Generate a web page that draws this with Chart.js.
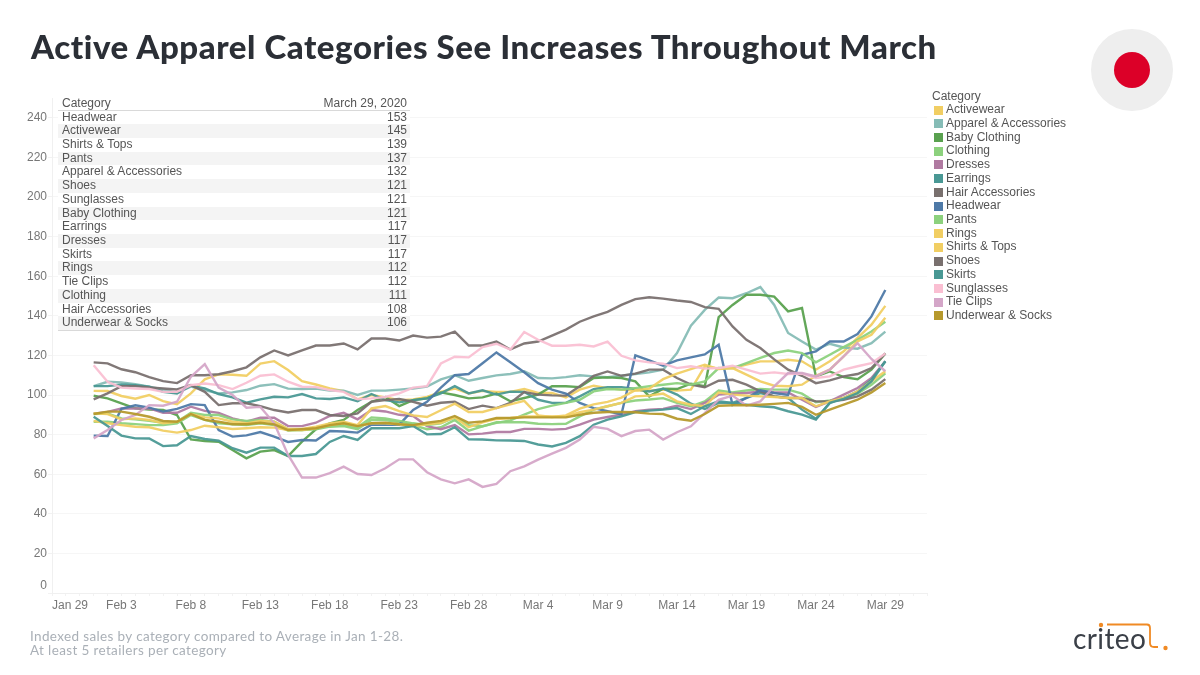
<!DOCTYPE html>
<html>
<head>
<meta charset="utf-8">
<title>Active Apparel Categories</title>
<script src="https://cdn.jsdelivr.net/npm/chart.js@4/dist/chart.umd.min.js"></script>
<style>
  html, body { margin: 0; padding: 0; background: #fff; }
  body { width: 1200px; height: 675px; overflow: hidden; position: relative; font-family: "Liberation Sans", Arial, sans-serif; color: #555; }
  canvas { position: absolute; left: 0; top: 0; }
  h1 { position: absolute; left: 31px; top: 23px; margin: 0; font: 900 33px/46px Lato, sans-serif; letter-spacing: 0.57px; color: #2b2f36; white-space: nowrap; }
  .flag { position: absolute; left: 1091px; top: 29px; width: 82px; height: 82px; border-radius: 50%; background: #eeeeee; }
  .flag div { position: absolute; left: 23px; top: 23px; width: 36px; height: 36px; border-radius: 50%; background: #dc0028; }
  #table { position: absolute; left: 58px; top: 96.5px; width: 352px; background: #fff; font-size: 12px; border-bottom: 1px solid #d9d9d9; }
  #table .row { display: flex; justify-content: space-between; height: 13.73px; line-height: 13.73px; padding: 0 3px 0 4px; }
  #table .head { height: 13px; border-bottom: 1px solid #d9d9d9; }
  #table .row:nth-child(odd):not(.head) { background: #f4f4f4; }
  #legend { position: absolute; left: 932px; top: 89.5px; font-size: 12px; }
  #legend .item { position: relative; height: 13.73px; line-height: 13.73px; padding-left: 14px; white-space: nowrap; }
  #legend .item i { position: absolute; left: 1.5px; top: 2.4px; width: 9px; height: 9px; }
  #legend .title { height: 13.73px; line-height: 13.73px; }
  .note { position: absolute; left: 30px; top: 629px; font: 13.5px/14px Lato, sans-serif; letter-spacing: 0.36px; color: #aab0b7; white-space: nowrap; }
  #logo { position: absolute; left: 1060px; top: 610px; }
</style>
</head>
<body>
<canvas id="chart" width="1200" height="675"></canvas>
<h1>Active Apparel Categories See Increases Throughout March</h1>
<div class="flag"><div></div></div>
<div id="table"></div>
<div id="legend"></div>
<div class="note">Indexed sales by category compared to Average in Jan 1-28.<br>At least 5 retailers per category</div>
<svg id="logo" width="120" height="50" viewBox="0 0 120 50">
  <text x="13" y="39" font-family="Lato" font-size="28" letter-spacing="0.4" fill="#3b4048">criteo</text>
  <circle cx="41" cy="15" r="2.2" fill="#f08a24"/>
  <path d="M47 14.5 H87 Q90 14.5 90 18 V33 Q90 37 94 37 H98" fill="none" stroke="#f08a24" stroke-width="1.8"/>
  <circle cx="105.5" cy="38" r="2.2" fill="#f08a24"/>
</svg>

<script>
// one label per day, the axis runs a few days past the data on both sides
const days = [
  "Jan 29", "Jan 30", "Jan 31",
  "Feb 1", "Feb 2", "Feb 3", "Feb 4", "Feb 5", "Feb 6", "Feb 7", "Feb 8", "Feb 9", "Feb 10",
  "Feb 11", "Feb 12", "Feb 13", "Feb 14", "Feb 15", "Feb 16", "Feb 17", "Feb 18", "Feb 19", "Feb 20",
  "Feb 21", "Feb 22", "Feb 23", "Feb 24", "Feb 25", "Feb 26", "Feb 27", "Feb 28", "Feb 29",
  "Mar 1", "Mar 2", "Mar 3", "Mar 4", "Mar 5", "Mar 6", "Mar 7", "Mar 8", "Mar 9", "Mar 10",
  "Mar 11", "Mar 12", "Mar 13", "Mar 14", "Mar 15", "Mar 16", "Mar 17", "Mar 18", "Mar 19", "Mar 20",
  "Mar 21", "Mar 22", "Mar 23", "Mar 24", "Mar 25", "Mar 26", "Mar 27", "Mar 28", "Mar 29",
  "Mar 30", "Mar 31", "Apr 1"
];
const tickDays = ["Jan 29", "Feb 3", "Feb 8", "Feb 13", "Feb 18", "Feb 23", "Feb 28", "Mar 4", "Mar 9", "Mar 14", "Mar 19", "Mar 24", "Mar 29"];

const legendCategories = ["Activewear", "Apparel & Accessories", "Baby Clothing", "Clothing", "Dresses", "Earrings", "Hair Accessories", "Headwear", "Pants", "Rings", "Shirts & Tops", "Shoes", "Skirts", "Sunglasses", "Tie Clips", "Underwear & Socks"];
const legendColors = ["#f1ce63", "#86bcb6", "#59a14f", "#8cd17d", "#b07aa1", "#499894", "#79706e", "#4e79a7", "#8cd17d", "#f1ce63", "#f1ce63", "#79706e", "#499894", "#fabfd2", "#d4a6c8", "#b6992d"];

const tableCategories = ["Headwear", "Activewear", "Shirts & Tops", "Pants", "Apparel & Accessories", "Shoes", "Sunglasses", "Baby Clothing", "Earrings", "Dresses", "Skirts", "Rings", "Tie Clips", "Clothing", "Hair Accessories", "Underwear & Socks"];
const tableValues = [153, 145, 139, 137, 132, 121, 121, 121, 117, 117, 117, 112, 112, 111, 108, 106];

// Feb 1 to Mar 29
const activewear = [102.1, 102, 99.5, 98.1, 100, 96.9, 95.3, 100.8, 107.9, 110.4, 110.2, 109.7, 115.9, 117.1, 112.6, 107, 105.3, 103.3, 102, 97.8, 100, 98.8, 97.4, 97.8, 99, 101.6, 103.3, 100.8, 102.1, 101.6, 101.6, 103, 101, 101, 98.8, 102.7, 104.7, 103.5, 102.7, 102.2, 102.2, 102.7, 102.2, 102.7, 114.5, 113.3, 113.6, 115.3, 117, 117, 117.8, 117, 112.8, 117, 122.1, 128.8, 135.5, 145];
const apparel = [104.5, 106.7, 106.4, 105.5, 104.2, 102.8, 101.1, 104.2, 102.5, 100.8, 101.3, 102.5, 104.7, 105.5, 103.2, 103, 103.3, 102.2, 102.2, 100, 102.2, 102.2, 102.7, 103.3, 104.2, 107.9, 110, 107.2, 108.6, 109.9, 110.6, 112, 108.6, 108.4, 109, 110, 109.4, 109, 109.7, 110.6, 111.4, 112.8, 121.2, 135, 143, 149.2, 148.9, 151.4, 154.5, 145.5, 131.3, 127, 122.9, 125.9, 124, 123.4, 126.2, 132];
const babyClothing = [99.6, 98.3, 95.8, 93.3, 92.7, 92.4, 89.9, 77.6, 76.8, 76.4, 72.2, 68, 71.4, 72.2, 69.2, 76.4, 82.7, 85.7, 87.4, 92.4, 96.6, 99, 94.4, 97.4, 98.3, 101.3, 100, 98.3, 98.8, 100.7, 96.8, 98.5, 100.2, 104.4, 104.4, 104, 108.6, 108.9, 108.6, 106.9, 99.3, 103.2, 103, 105.7, 104.4, 139.3, 145.5, 150.6, 150.6, 149.7, 142.2, 143.9, 109.4, 111.9, 109, 108, 112.8, 121];
const clothing = [86.5, 86.5, 85.7, 85.3, 84.8, 84.8, 85.7, 89.9, 87.4, 85.7, 85.2, 84.8, 85.7, 84.8, 82, 82.3, 82.7, 84, 84.3, 82.7, 87.4, 87.4, 86.2, 84.8, 82.7, 83.7, 87.4, 82, 84.2, 86.2, 86.2, 86.2, 85.5, 85.3, 85.5, 89.2, 92.6, 94.3, 96, 97.2, 97.7, 98.4, 96, 94.3, 96.8, 102.3, 101.3, 102.3, 103, 102.7, 102.7, 100.7, 96.3, 97.3, 98.5, 100.7, 105.2, 111];
const dresses = [90.5, 91.5, 93.2, 93.2, 93.2, 91, 91, 94.1, 92, 91, 88.2, 86.5, 88.5, 88.5, 84.3, 84.3, 86, 89.4, 91, 87.7, 92.4, 91.7, 90, 89.4, 84.3, 82.7, 84.8, 80.1, 80.5, 81.3, 81.3, 82.9, 82.9, 82.5, 82.9, 85, 87.6, 88.9, 90, 91.8, 92.6, 93, 94.6, 92.9, 96, 100.2, 100.7, 101, 101.8, 101.3, 101.3, 97.6, 94, 96.8, 100.2, 103.5, 108.6, 117];
const earrings = [104.5, 104.5, 105.3, 105, 104.2, 101.6, 100.8, 104.7, 103.3, 100.5, 98.8, 96.1, 97.8, 99.1, 98.8, 100.5, 98.3, 98, 98.8, 96.8, 100.5, 97.4, 96.3, 97.4, 98.3, 100.8, 104.5, 100.8, 102.4, 100.2, 101.7, 101.5, 97.6, 96, 96, 99.3, 103, 104, 104, 103, 101.8, 103.2, 100.2, 95.6, 92.9, 96, 96, 98.5, 101, 99.3, 98.5, 92.6, 88, 96, 98.5, 101.8, 107.7, 117];
const hairAccessories = [97.8, 100.8, 104.5, 104.5, 103.8, 103.3, 102.8, 105, 101.6, 94.9, 95.8, 95.8, 94.4, 92.4, 91.2, 92.4, 92.4, 89.9, 89.4, 90.7, 96.6, 97.4, 98, 96.6, 94.6, 96.1, 96.6, 92.9, 94.6, 93.4, 96, 101.5, 100.2, 99.8, 99.7, 104.4, 109.7, 111.9, 109.7, 110.8, 112.8, 112.8, 108.6, 105.2, 103.9, 107.2, 107.7, 105.2, 101.8, 99.3, 98.5, 98.5, 96.8, 96.8, 97.6, 99.3, 102.7, 108];
const headwear = [79.5, 79.3, 93, 94.8, 93.6, 91.6, 93, 95.4, 94.9, 82.3, 79, 79.6, 81.3, 79, 76.3, 77.3, 77, 81.8, 81.6, 81, 85, 85, 85, 92.4, 96.6, 103.7, 110, 110.6, 116, 121.5, 116.5, 111.5, 106, 102.7, 100.7, 96, 93.4, 91.8, 90.3, 120, 117.5, 114.8, 117.5, 119, 120.5, 125.4, 95, 98.5, 102.4, 101, 100, 120.3, 122, 127, 127, 130.8, 139.7, 153];
const pants = [90.4, 90.7, 88.2, 87.7, 87, 86, 86.5, 91, 89.9, 89.9, 87.7, 86.9, 87.4, 86.5, 82.7, 82.3, 83.2, 84.8, 84.8, 83.7, 88.7, 88.2, 86.9, 85.7, 84.8, 85.7, 88.7, 84.8, 84.2, 85.9, 87.2, 90.1, 92.9, 94.6, 96, 97.6, 101.8, 103, 102.7, 103.5, 104.4, 105.2, 106, 105.2, 106.9, 113.6, 113.6, 116.1, 118.7, 121.2, 122.5, 121.2, 116.5, 120.3, 124.2, 127.9, 132.1, 137];
const rings = [86.9, 85.7, 84.8, 84, 83.7, 82, 81, 82.3, 84.5, 83.7, 82.8, 83.2, 83.7, 83.5, 82.3, 82.3, 83.2, 84.8, 85.7, 84.3, 85.7, 85.7, 85.2, 84.3, 85.2, 86, 88.7, 83.7, 86.2, 87.9, 88.4, 89.2, 89.2, 89.2, 89.2, 91.3, 92.6, 94.3, 96, 99.3, 99.7, 100.7, 96.8, 95.1, 94.3, 101.3, 100.2, 99.7, 99.3, 99, 98.5, 98.5, 94.3, 96.8, 98.5, 101.8, 106.9, 112];
const shirtsTops = [90.7, 90.4, 87.7, 88.2, 87.4, 85.7, 86.5, 90.4, 88.7, 88.2, 86.5, 85.7, 86.9, 86.5, 82.8, 82.8, 84, 85.7, 86.5, 84.8, 93.2, 94.4, 91.8, 89.7, 88.9, 92.3, 95.6, 91.4, 91.4, 93.4, 95.3, 97, 89.7, 88.9, 89.7, 93.1, 95.3, 96.5, 98.7, 102.4, 103.2, 108, 110.8, 113.1, 115.3, 113.1, 113.6, 110.3, 106.9, 104.7, 104.4, 105.2, 109.7, 112.8, 119.5, 127.1, 130.4, 139];
const shoes = [116.5, 116, 113, 111.5, 109, 107, 106, 110, 110, 110.5, 112, 114, 119, 122.5, 120, 122.5, 125, 125, 126, 123, 128.5, 128.5, 127.5, 130, 129, 129.5, 132, 125, 125, 127, 123, 126, 127, 130, 133, 137, 139.7, 142, 145.5, 148.4, 149.4, 148.7, 147.7, 147, 144.4, 143.5, 134.6, 127.9, 123.7, 118, 112.8, 109.7, 106, 107.4, 109.4, 110.6, 113.6, 121];
const skirts = [89, 84.3, 79.5, 78.1, 78, 74.2, 74.6, 79.3, 77.8, 76.9, 73.1, 70.9, 73.4, 73.4, 69.2, 69.2, 70.2, 76.3, 79.3, 77.3, 83.2, 83.2, 83.2, 84.3, 80.1, 80.3, 83.7, 77.6, 77.5, 77.1, 77, 76.8, 75, 74, 75.8, 79.2, 85, 87.6, 89.2, 91.4, 92.1, 92.6, 93.4, 90.4, 94.3, 96.8, 96, 95.1, 94.3, 93.8, 91.8, 90.1, 87.6, 96, 98, 101, 106.9, 117];
const sunglasses = [115, 106.7, 103.7, 103.3, 103, 101.6, 101.6, 105, 105.8, 105, 103, 106.2, 109.7, 110.4, 106.7, 104.2, 104, 102.5, 101.6, 97.8, 98.3, 99, 100.8, 103.7, 104.5, 115.9, 119.3, 119, 124.2, 125.9, 122.9, 131.8, 127.9, 124.9, 124.9, 125.4, 124.5, 127, 119.8, 117.5, 116.5, 115.8, 113.6, 114.5, 113.3, 113.6, 114.8, 112.8, 110.8, 111.4, 110.6, 110.8, 108.6, 109.4, 112.8, 114.5, 116.1, 121];
const tieClips = [78.1, 82.3, 87.4, 89.9, 94.9, 94.6, 96.6, 109.2, 115.6, 103.7, 100, 93.6, 94, 85.7, 69.7, 58.3, 58.3, 60.5, 63.8, 60.1, 59.6, 63, 67.5, 67.5, 61, 57.4, 55.4, 57.4, 53.6, 55.1, 61.5, 64, 67.4, 70.4, 73.3, 77.5, 83.9, 82.9, 79.2, 81.8, 82.5, 77.5, 81.2, 84.2, 90.9, 97.6, 99.7, 94.6, 96.8, 104.4, 111.1, 111.1, 109.4, 112.8, 119.5, 126.2, 118.2, 112];
const underwearSocks = [90.4, 91.6, 91.6, 90.4, 89, 86.9, 86.5, 90.4, 87.4, 86.5, 85.2, 85.2, 86, 85.2, 82.3, 82.7, 83.2, 84.8, 85.7, 84.3, 85.7, 86, 85.2, 84.8, 86, 86.9, 89.4, 86, 86.7, 88.4, 88.4, 88.7, 88.7, 88.7, 88.7, 90, 91, 91.4, 91.4, 91.3, 90.6, 90.4, 88, 87, 90.4, 94.6, 94.8, 94.8, 95.1, 95.5, 96, 94, 90, 92.6, 95.1, 97.6, 101.3, 106];

const seriesValues = [activewear, apparel, babyClothing, clothing, dresses, earrings, hairAccessories, headwear, pants, rings, shirtsTops, shoes, skirts, sunglasses, tieClips, underwearSocks];

function buildTable() {
  const table = document.getElementById("table");
  let html = '<div class="row head"><span>Category</span><span>March 29, 2020</span></div>';
  tableCategories.forEach((name, i) => {
    html += `<div class="row"><span>${name.replace("&", "&amp;")}</span><span>${tableValues[i]}</span></div>`;
  });
  table.innerHTML = html;
}

function buildLegend() {
  const legend = document.getElementById("legend");
  let html = '<div class="title">Category</div>';
  legendCategories.forEach((name, i) => {
    html += `<div class="item"><i style="background:${legendColors[i]}"></i>${name.replace("&", "&amp;")}</div>`;
  });
  legend.innerHTML = html;
}

function createChart() {
  const datasets = legendCategories.map((name, i) => ({
    label: name,
    // the three leading days have no data
    data: [null, null, null, ...seriesValues[i]],
    borderColor: legendColors[i] + "f0",
    backgroundColor: "transparent",
    borderWidth: 2.4,
    pointRadius: 0,
    tension: 0,
    order: legendCategories.length - i
  }));

  new Chart(document.getElementById("chart"), {
    type: "line",
    data: { labels: days, datasets },
    options: {
      responsive: false,
      animation: false,
      layout: { padding: { top: 98, right: 273, left: 0, bottom: 0 } },
      plugins: { legend: { display: false }, tooltip: { enabled: false } },
      scales: {
        x: {
          offset: false,
          afterFit: scale => { scale.height = 82; },
          grid: {
            drawOnChartArea: false,
            tickLength: 3,
            tickColor: "#f2f2f2"
          },
          border: { color: "#f0f0f0" },
          ticks: {
            autoSkip: false,
            maxRotation: 0,
            align: "inner",
            padding: 2,
            color: "#777",
            font: { family: "Liberation Sans", size: 12 },
            callback: (value, index) => tickDays.includes(days[index]) ? days[index] : ""
          }
        },
        y: {
          min: 0,
          max: 250,
          afterFit: scale => { scale.width = 52; },
          grid: { color: "#f6f6f6", tickColor: "#f2f2f2", tickLength: 4 },
          border: { color: "#f0f0f0" },
          ticks: {
            stepSize: 20,
            includeBounds: false,
            padding: 1,
            color: "#777",
            font: { family: "Liberation Sans", size: 12 },
            // the zero sits a bit above its gridline, as in the picture
            callback: value => value === 0 ? ["0", ""] : String(value)
          }
        }
      }
    }
  });
}

document.addEventListener("DOMContentLoaded", () => {
  buildTable();
  buildLegend();
  createChart();
});
</script>
</body>
</html>
